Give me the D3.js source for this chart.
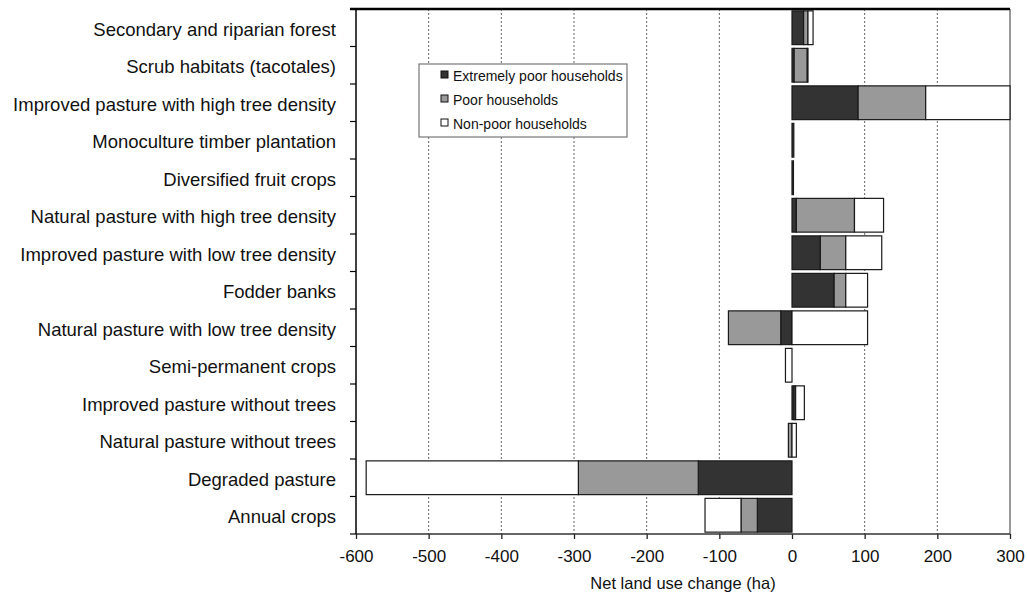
<!DOCTYPE html>
<html>
<head>
<meta charset="utf-8">
<script src="https://cdn.jsdelivr.net/npm/d3@7"></script>
<style>
  body { margin: 0; background: #fff; }
  svg { display: block; font-family: "Liberation Sans", Arial, sans-serif; }
</style>
</head>
<body>
<svg id="chart" width="1027" height="603"></svg>
<script>
const categories = [
  "Secondary and riparian forest",
  "Scrub habitats (tacotales)",
  "Improved pasture with high tree density",
  "Monoculture timber plantation",
  "Diversified fruit crops",
  "Natural pasture with high tree density",
  "Improved pasture with low tree density",
  "Fodder banks",
  "Natural pasture with low tree density ",
  "Semi-permanent crops",
  "Improved pasture without trees",
  "Natural pasture without trees",
  "Degraded pasture",
  "Annual crops"
];
const seriesNames = ["Extremely poor households", "Poor households", "Non-poor households"];
const extremelyPoor = [16, 3, 91, 2.5, 2, 6, 39, 58, -15.5, 0, 3, 0, -129, -47.7];
const poor          = [6, 18, 93, 0, 0, 80, 35, 16, -72, 0, 2, -5, -165, -22.5];
const nonPoor       = [7, 1, 116, 0, 0, 40, 49.5, 30, 104, -9, 12, 6, -292, -49.5];
const xTicks = [-600, -500, -400, -300, -200, -100, 0, 100, 200, 300];
const xTitle = "Net land use change (ha)";
const colors = ["#333333", "#999999", "#ffffff"];

const rows = categories.map((c, i) => ({
  cat: c, e: extremelyPoor[i], p: poor[i], n: nonPoor[i]
}));
const keys = ["e", "p", "n"];
const stacked = d3.stack().keys(keys).offset(d3.stackOffsetDiverging)(rows);

const svg = d3.select("#chart");
const L = 356, R = 1010, T = 9, B = 534;

const x = d3.scaleLinear().domain([-600, 300]).range([L, R]);
const y = d3.scaleBand().domain(categories).range([T, B]).paddingInner(0.1).paddingOuter(0.05);

// gridlines
svg.append("g").selectAll("line")
  .data(xTicks.filter(t => t !== 0 && t !== -600 && t !== 300))
  .join("line")
  .attr("x1", d => x(d)).attr("x2", d => x(d))
  .attr("y1", T).attr("y2", B)
  .attr("stroke", "#666").attr("stroke-width", 1)
  .attr("stroke-dasharray", "2,2");

// right border
svg.append("line").attr("x1", R).attr("x2", R).attr("y1", T).attr("y2", B)
  .attr("stroke", "#777").attr("stroke-width", 1.5);

// bars
svg.append("g").selectAll("g")
  .data(stacked)
  .join("g")
  .attr("fill", (d, i) => colors[i])
  .selectAll("rect")
  .data(d => d.filter(s => s[1] - s[0] !== 0))
  .join("rect")
  .attr("x", d => x(Math.min(d[0], d[1])))
  .attr("width", d => Math.abs(x(d[1]) - x(d[0])))
  .attr("y", d => y(d.data.cat))
  .attr("height", y.bandwidth())
  .attr("stroke", "#1a1a1a").attr("stroke-width", 1.2);

// x axis
const xAxis = d3.axisBottom(x).tickValues(xTicks).tickSize(5).tickSizeOuter(0)
  .tickFormat(d3.format("d"));
const gx = svg.append("g").attr("transform", `translate(0,${B})`).call(xAxis);
gx.select(".domain").remove();
gx.selectAll(".tick line").attr("stroke", "#222").attr("stroke-width", 1.3);
gx.selectAll(".tick text").attr("font-size", 17).attr("fill", "#111")
  .attr("font-family", "Liberation Sans, Arial, sans-serif").attr("dy", "1.2em")
  .text(d => d < 0 ? "-" + Math.abs(d) : d);
svg.append("line").attr("x1", L - 6).attr("x2", R).attr("y1", B).attr("y2", B)
  .attr("stroke", "#333").attr("stroke-width", 1.5);

// top border
svg.append("line").attr("x1", L - 6).attr("x2", R).attr("y1", T).attr("y2", T)
  .attr("stroke", "#000").attr("stroke-width", 2.5);

// y axis
svg.append("line").attr("x1", L).attr("x2", L).attr("y1", T).attr("y2", B)
  .attr("stroke", "#000").attr("stroke-width", 1.5);
const step = y.step();
const boundaries = categories.slice(1).map(c => y(c) - y.paddingInner() * step / 2);
svg.append("g").selectAll("line").data(boundaries).join("line")
  .attr("x1", L - 6).attr("x2", L).attr("y1", d => d).attr("y2", d => d)
  .attr("stroke", "#000").attr("stroke-width", 1.2);
svg.append("g").selectAll("text").data(categories).join("text")
  .attr("x", 336).attr("y", d => y(d) + y.bandwidth() / 2 + 8)
  .attr("text-anchor", "end").attr("font-size", 18.5).attr("fill", "#111")
  .text(d => d);

// axis title
svg.append("text").attr("x", (L + R) / 2).attr("y", 589)
  .attr("text-anchor", "middle").attr("font-size", 16.5).attr("fill", "#111")
  .text(xTitle);

// legend
const lg = svg.append("g").attr("transform", "translate(419,64)");
lg.append("rect").attr("width", 208).attr("height", 73)
  .attr("fill", "#fff").attr("stroke", "#777").attr("stroke-width", 1.2);
seriesNames.forEach((s, i) => {
  const yy = 17 + i * 24;
  lg.append("rect").attr("x", 22).attr("y", yy - 10).attr("width", 7).attr("height", 7)
    .attr("fill", colors[i]).attr("stroke", "#111").attr("stroke-width", 1);
  lg.append("text").attr("x", 34).attr("y", yy).attr("font-size", 14).attr("fill", "#111").text(s);
});
</script>
</body>
</html>
